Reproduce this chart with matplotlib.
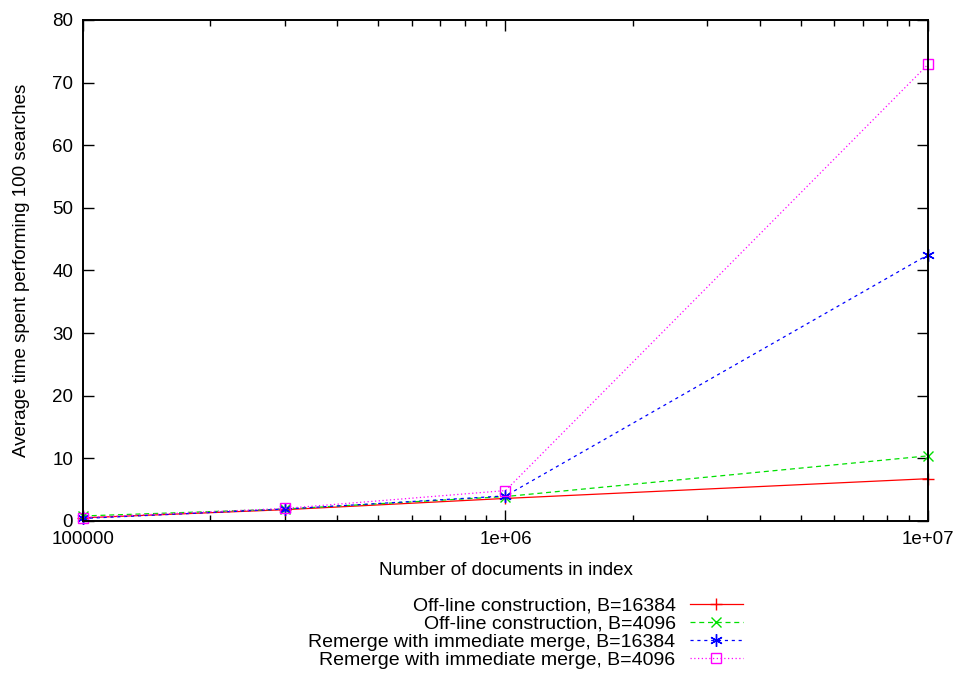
import matplotlib
matplotlib.use("Agg")
import matplotlib.pyplot as plt
from matplotlib.ticker import FixedLocator, FixedFormatter, LogLocator, NullFormatter

plt.rcParams["font.family"] = ["Liberation Sans", "DejaVu Sans"]

# ── Data ──────────────────────────────────────────────────────────────────
docs = [1e5, 3e5, 1e6, 1e7]
offline_16384 = [0.5, 1.8, 3.6, 6.75]
offline_4096 = [0.8, 1.9, 3.9, 10.4]
remerge_16384 = [0.4, 1.9, 4.0, 42.5]
remerge_4096 = [0.55, 2.0, 4.85, 72.9]

labels = [
    "Off-line construction, B=16384",
    "Off-line construction, B=4096",
    "Remerge with immediate merge, B=16384",
    "Remerge with immediate merge, B=4096",
]
xticks = [1e5, 1e6, 1e7]
xtick_labels = ["100000", "1e+06", "1e+07"]
yticks = [0, 10, 20, 30, 40, 50, 60, 70, 80]

# ── Plot ──────────────────────────────────────────────────────────────────
fig = plt.figure(figsize=(9.57, 6.73), dpi=100)
ax = fig.add_axes([0.0867, 0.2259, 0.883, 0.7444])

styles = [
    dict(color="#ff0000", linestyle="-", marker="+", markersize=8),
    dict(color="#00e000", linestyle=(0, (4, 3)), marker="x", markersize=7),
    dict(color="#0000ff", linestyle=(0, (2.5, 3)), marker=(6, 2, 0), markersize=9),
    dict(color="#ff00ff", linestyle=(0, (1, 2)), marker="s", markersize=7,
         markerfacecolor="none"),
]
series = [offline_16384, offline_4096, remerge_16384, remerge_4096]
for vals, lab, st in zip(series, labels, styles):
    ax.plot(docs, vals, label=lab, linewidth=0.9, markeredgewidth=1.0,
            clip_on=False, **st)

ax.set_xscale("log")
ax.set_xlim(1e5, 1e7)
ax.set_ylim(0, 80)
ax.xaxis.set_major_locator(FixedLocator(xticks))
ax.xaxis.set_major_formatter(FixedFormatter(xtick_labels))
ax.xaxis.set_minor_locator(LogLocator(base=10, subs=range(2, 10)))
ax.xaxis.set_minor_formatter(NullFormatter())
ax.set_yticks(yticks)

ax.tick_params(which="both", direction="in", top=True, right=True,
               labelsize=13.5, width=1.0, pad=7)
ax.tick_params(which="major", length=8)
ax.tick_params(which="minor", length=4)
for sp in ax.spines.values():
    sp.set_linewidth(1.4)

ax.set_xlabel("Number of documents in index", fontsize=13.5, labelpad=10)
ax.set_ylabel("Average time spent performing 100 searches", fontsize=13.5,
              labelpad=16)

ax.legend(loc="upper right", bbox_to_anchor=(0.776, 0.113),
          bbox_transform=fig.transFigure, frameon=False, markerfirst=False,
          fontsize=14, handlelength=2.7, handletextpad=0.75,
          labelspacing=0.02, borderpad=0, borderaxespad=0)

plt.savefig("out.png", dpi=100)
plt.close()
